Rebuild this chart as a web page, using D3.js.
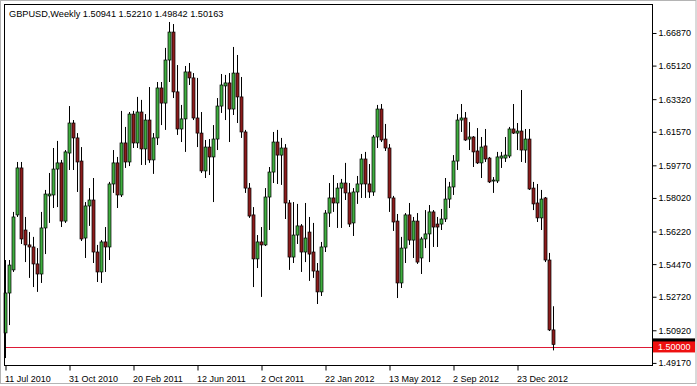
<!DOCTYPE html>
<html>
<head>
<meta charset="utf-8">
<script src="https://cdn.jsdelivr.net/npm/d3@7"></script>
<style>
  body { margin: 0; background: #fff; }
  svg { display: block; }
  text { font-family: "Liberation Sans", Arial, sans-serif; }
</style>
</head>
<body>
<div id="chart"></div>
<script>
// weekly GBPUSD candles, first bar = week of 11 Jul 2010
var opens = [
  1.5078, 1.5292, 1.5416, 1.5711, 1.5963, 1.5630, 1.5550, 1.5539, 1.5448, 1.5394,
  1.5641, 1.5813, 1.5818, 1.5957, 1.5990, 1.5678, 1.6043, 1.6204, 1.6124, 1.6000,
  1.5587, 1.5759, 1.5791, 1.5512, 1.5405, 1.5566, 1.5539, 1.5877, 1.5990, 1.5818,
  1.6097, 1.5995, 1.6252, 1.6097, 1.6263, 1.6065, 1.6220, 1.6006, 1.6124, 1.6392,
  1.6311, 1.6542, 1.6692, 1.6371, 1.6172, 1.6226, 1.6478, 1.6446, 1.6231, 1.6150,
  1.5947, 1.6075, 1.6022, 1.6118, 1.6295, 1.6403, 1.6419, 1.6279, 1.6472, 1.6344,
  1.6156, 1.5855, 1.5711, 1.5475, 1.5566, 1.5550, 1.5807, 1.5941, 1.6102, 1.6032,
  1.6070, 1.5775, 1.5485, 1.5603, 1.5652, 1.5512, 1.5619, 1.5512, 1.5410, 1.5298,
  1.5539, 1.5721, 1.5802, 1.5775, 1.5855, 1.5882, 1.5829, 1.5668, 1.5834, 1.5877,
  1.6011, 1.5877, 1.5834, 1.6129, 1.6279, 1.6118, 1.6070, 1.5802, 1.5678, 1.5346,
  1.5533, 1.5711, 1.5576, 1.5678, 1.5480, 1.5582, 1.5609, 1.5727, 1.5662, 1.5662,
  1.5689, 1.5796, 1.5861, 1.6000, 1.6220, 1.6231, 1.6118, 1.6129, 1.6054, 1.5990,
  1.6081, 1.6016, 1.5893, 1.5893, 1.6016, 1.6016, 1.6027, 1.6172, 1.6150, 1.6161,
  1.6059, 1.6118, 1.5855, 1.5775, 1.5695, 1.5802, 1.5469, 1.50941
];
var highs = [
  1.5469, 1.5469, 1.5727, 1.5995, 1.5995, 1.5700, 1.5619, 1.5593, 1.5533, 1.5727,
  1.5845, 1.5936, 1.6070, 1.6108, 1.6006, 1.6059, 1.6295, 1.6220, 1.6150, 1.6075,
  1.5780, 1.5855, 1.5909, 1.5550, 1.5576, 1.5646, 1.5888, 1.6059, 1.6022, 1.6269,
  1.6183, 1.6263, 1.6269, 1.6344, 1.6328, 1.6252, 1.6397, 1.6150, 1.6424, 1.6424,
  1.6607, 1.6746, 1.6735, 1.6515, 1.6301, 1.6510, 1.6526, 1.6472, 1.6446, 1.6263,
  1.6113, 1.6118, 1.6193, 1.6338, 1.6467, 1.6462, 1.6472, 1.6612, 1.6569, 1.6451,
  1.6167, 1.5882, 1.5753, 1.5603, 1.5646, 1.5855, 1.5968, 1.6156, 1.6167, 1.6124,
  1.6091, 1.5791, 1.5780, 1.5770, 1.5662, 1.5775, 1.5700, 1.5668, 1.5453, 1.5566,
  1.5737, 1.5882, 1.5925, 1.5882, 1.5904, 1.5990, 1.5882, 1.5855, 1.5920, 1.6038,
  1.6049, 1.5984, 1.6140, 1.6301, 1.6306, 1.6199, 1.6091, 1.5813, 1.5716, 1.5593,
  1.5721, 1.5775, 1.5700, 1.5721, 1.5593, 1.5737, 1.5764, 1.5737, 1.5700, 1.5743,
  1.5909, 1.5888, 1.6032, 1.6252, 1.6306, 1.6263, 1.6209, 1.6134, 1.6177, 1.6129,
  1.6172, 1.6022, 1.5914, 1.6049, 1.6049, 1.6129, 1.6183, 1.6306, 1.6204, 1.6381,
  1.6172, 1.6172, 1.5888, 1.5877, 1.5845, 1.5807, 1.5507, 1.52210
];
var lows = [
  1.4943, 1.5120, 1.5405, 1.5700, 1.5555, 1.5458, 1.5373, 1.5324, 1.5298, 1.5346,
  1.5501, 1.5668, 1.5748, 1.5753, 1.5646, 1.5668, 1.5952, 1.5952, 1.5834, 1.5571,
  1.5480, 1.5652, 1.5453, 1.5351, 1.5346, 1.5405, 1.5469, 1.5829, 1.5748, 1.5807,
  1.5963, 1.5973, 1.6070, 1.6070, 1.5979, 1.5979, 1.5990, 1.5931, 1.6086, 1.6193,
  1.6167, 1.6424, 1.6338, 1.6140, 1.6102, 1.6049, 1.6408, 1.6220, 1.6075, 1.5936,
  1.5909, 1.5925, 1.5780, 1.6059, 1.6258, 1.6220, 1.6102, 1.6247, 1.6204, 1.6124,
  1.5829, 1.5695, 1.5324, 1.5426, 1.5271, 1.5544, 1.5630, 1.5882, 1.5877, 1.5872,
  1.5689, 1.5416, 1.5453, 1.5555, 1.5405, 1.5458, 1.5357, 1.5373, 1.5233, 1.5276,
  1.5512, 1.5646, 1.5727, 1.5641, 1.5641, 1.5791, 1.5646, 1.5598, 1.5770, 1.5802,
  1.5802, 1.5802, 1.5813, 1.6070, 1.6102, 1.6054, 1.5727, 1.5625, 1.5265, 1.5319,
  1.5453, 1.5550, 1.5480, 1.5448, 1.5394, 1.5533, 1.5458, 1.5539, 1.5539, 1.5630,
  1.5673, 1.5748, 1.5818, 1.5952, 1.6156, 1.6108, 1.6059, 1.5968, 1.5984, 1.5909,
  1.5995, 1.5882, 1.5829, 1.5882, 1.5963, 1.5995, 1.6016, 1.6145, 1.6059, 1.5995,
  1.5990, 1.5845, 1.5737, 1.5673, 1.5630, 1.5458, 1.5088, 1.49842
];
var closes = [
  1.5292, 1.5442, 1.5700, 1.5963, 1.5582, 1.5550, 1.5539, 1.5448, 1.5394, 1.5641,
  1.5823, 1.5823, 1.5957, 1.5990, 1.5678, 1.6049, 1.6204, 1.6124, 1.5995, 1.5582,
  1.5759, 1.5791, 1.5512, 1.5405, 1.5566, 1.5539, 1.5877, 1.5990, 1.5818, 1.6097,
  1.5995, 1.6252, 1.6097, 1.6263, 1.6065, 1.6220, 1.6006, 1.6124, 1.6392, 1.6311,
  1.6542, 1.6692, 1.6371, 1.6172, 1.6226, 1.6478, 1.6446, 1.6231, 1.6150, 1.5947,
  1.6075, 1.6022, 1.6118, 1.6295, 1.6408, 1.6419, 1.6279, 1.6472, 1.6344, 1.6156,
  1.5855, 1.5705, 1.5475, 1.5566, 1.5550, 1.5807, 1.5941, 1.6102, 1.6032, 1.6070,
  1.5775, 1.5485, 1.5603, 1.5652, 1.5512, 1.5587, 1.5501, 1.5410, 1.5298, 1.5539,
  1.5721, 1.5802, 1.5775, 1.5855, 1.5882, 1.5829, 1.5662, 1.5834, 1.5877, 1.6011,
  1.5877, 1.5834, 1.6129, 1.6279, 1.6113, 1.6070, 1.5802, 1.5673, 1.5346, 1.5533,
  1.5711, 1.5576, 1.5678, 1.5458, 1.5582, 1.5609, 1.5727, 1.5646, 1.5646, 1.5689,
  1.5796, 1.5861, 1.6000, 1.6220, 1.6231, 1.6113, 1.6129, 1.6049, 1.5990, 1.6075,
  1.6011, 1.5888, 1.5898, 1.6022, 1.6027, 1.6032, 1.6172, 1.6150, 1.6161, 1.6059,
  1.6118, 1.5850, 1.5770, 1.5695, 1.5796, 1.5469, 1.5094, 1.50163
];

var xTickLabels = ["11 Jul 2010", "31 Oct 2010", "20 Feb 2011", "12 Jun 2011", "2 Oct 2011",
                   "22 Jan 2012", "13 May 2012", "2 Sep 2012", "23 Dec 2012"];
var xTickBars = [0, 16, 32, 48, 64, 80, 96, 112, 128];
var yTicks = [1.66870, 1.65120, 1.63320, 1.61570, 1.59770, 1.58020, 1.56220, 1.54470, 1.52720, 1.50920, 1.49170];
var levelLine = 1.50000;

var width = 697, height = 386;
var plot = {left: 4, top: 4, right: 652, bottom: 365};

var svg = d3.select("#chart").append("svg")
  .attr("width", width)
  .attr("height", height);

// outer window edge
svg.append("rect")
  .attr("x", 0.5).attr("y", 0.5)
  .attr("width", width - 1.5).attr("height", 383)
  .attr("fill", "#fff")
  .attr("stroke", "#b4b4b4");

var x = d3.scaleLinear().domain([0, opens.length - 1]).range([5, 553]);
var y = d3.scaleLinear().domain([1.49058, 1.68425]).range([plot.bottom, plot.top]);

var bars = opens.map(function(o, i) {
  return {i: i, o: o, h: highs[i], l: lows[i], c: closes[i]};
});

var g = svg.append("g");

// level line at 1.5000
g.append("line")
  .attr("x1", plot.left).attr("x2", plot.right)
  .attr("y1", Math.round(y(levelLine)) + 0.5).attr("y2", Math.round(y(levelLine)) + 0.5)
  .style("stroke", "#dd1a36")
  .style("stroke-width", 1);

var candle = g.selectAll("g.candle")
  .data(bars)
  .enter()
  .append("g")
  .attr("class", "candle");

candle.append("line")
  .attr("x1", function(d){ return Math.round(x(d.i)) + 0.5; })
  .attr("x2", function(d){ return Math.round(x(d.i)) + 0.5; })
  .attr("y1", function(d){ return y(d.h); })
  .attr("y2", function(d){ return y(d.l); })
  .attr("stroke", "#000")
  .attr("stroke-width", 1);

candle.append("rect")
  .attr("x", function(d){ return Math.round(x(d.i)) - 1; })
  .attr("width", 3)
  .attr("y", function(d){ return y(Math.max(d.o, d.c)); })
  .attr("height", function(d){ return Math.max(1, Math.abs(y(d.o) - y(d.c))); })
  .attr("fill", function(d){ return d.c >= d.o ? "#3fae3f" : "#8c1c1c"; })
  .attr("stroke", "#000")
  .attr("stroke-width", 0.7);

// frame
svg.append("rect")
  .attr("x", plot.left + 0.5).attr("y", plot.top + 0.5)
  .attr("width", plot.right - plot.left).attr("height", plot.bottom - plot.top)
  .attr("fill", "none")
  .attr("stroke", "#000");

// price axis
var yAxis = svg.append("g")
  .attr("transform", "translate(" + (plot.right + 0.5) + ",0)")
  .call(d3.axisRight(y).tickValues(yTicks).tickSize(4).tickPadding(2)
        .tickFormat(d3.format(".5f")));
yAxis.select(".domain").remove();
yAxis.selectAll("text").attr("font-size", "9px").attr("font-family", "Liberation Sans, Arial, sans-serif").attr("fill", "#000");
yAxis.selectAll("line").attr("stroke", "#000");

// time axis
var xAxis = svg.append("g")
  .attr("transform", "translate(0," + (plot.bottom + 0.5) + ")")
  .call(d3.axisBottom(x).tickValues(xTickBars).tickSize(5).tickPadding(5)
        .tickFormat(function(d, i){ return xTickLabels[i]; }));
xAxis.select(".domain").remove();
xAxis.selectAll(".tick line").attr("transform", "translate(0.5,0)").attr("stroke", "#000");
xAxis.selectAll("text")
  .attr("text-anchor", "start")
  .attr("dx", "-0.5")
  .attr("font-size", "9px")
  .attr("font-family", "Liberation Sans, Arial, sans-serif")
  .attr("fill", "#000");

// last price and level labels
var last = bars[bars.length - 1];
svg.append("rect")
  .attr("x", plot.right + 1).attr("y", y(last.c) - 6)
  .attr("width", 42).attr("height", 11)
  .attr("fill", "#000");
svg.append("rect")
  .attr("x", plot.right + 1).attr("y", y(levelLine) - 6)
  .attr("width", 42).attr("height", 11)
  .attr("fill", "#ee1010");
svg.append("text")
  .attr("x", plot.right + 6).attr("y", y(levelLine))
  .attr("dy", "0.33em")
  .attr("font-size", "9px")
  .attr("fill", "#fff")
  .text(d3.format(".5f")(levelLine));

// header
svg.append("text")
  .attr("x", 9).attr("y", 16.5)
  .attr("font-size", "9.2px")
  .attr("fill", "#000")
  .text("GBPUSD,Weekly  " + [last.o, last.h, last.l, last.c].map(d3.format(".5f")).join(" "));
</script>
</body>
</html>
